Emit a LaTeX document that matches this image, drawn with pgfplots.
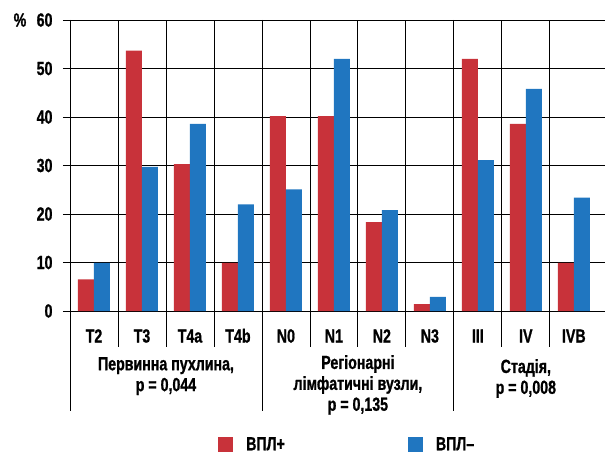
\documentclass[border=0pt]{standalone}
\usepackage{fontspec}
\setmainfont{Liberation Sans Bold}[FakeStretch=0.75, FakeBold=1]
\usepackage{pgfplots}
\pgfplotsset{compat=1.18}
\definecolor{vplpos}{RGB}{200,50,58}
\definecolor{vplneg}{RGB}{32,118,192}

\begin{document}
\begin{tikzpicture}[font=\fontsize{19}{21}\selectfont]
  \useasboundingbox (-70bp,-144bp) rectangle (535bp,311bp);
  \begin{axis}[
      scale only axis,
      width=535bp, height=291bp,
      at={(0,0)}, anchor=south west,
      ybar=0pt, bar width=16bp,
      xmin=-0.5, xmax=10.65,
      ymin=0, ymax=60,
      ytick={0,10,...,60},
      xtick={0,...,10},
      xticklabels={T2,T3,T4a,T4b,N0,N1,N2,N3,III,IV,IVB},
      minor xtick={0.5,1.5,...,9.5},
      ymajorgrids, xminorgrids,
      grid style={black, line width=0.8bp},
      minor grid style={black, line width=0.8bp},
      axis line style={draw=none},
      tick align=outside,
      xtick style={draw=none},
      minor tick length=0pt,
      ytick style={black, line width=0.8bp},
      major tick length=7bp,
      /pgf/number format/assume math mode=true,
      xticklabel style={anchor=base, yshift=-24.5bp},
      yticklabel style={anchor=east, xshift=-7bp},
      clip=false,
      legend columns=2,
      legend style={draw=none, fill=none, inner sep=0pt,
        at={(148bp,-133.5bp)}, anchor=west,
        nodes={inner sep=0pt},
        /tikz/every odd column/.append style={column sep=13bp},
        /tikz/every even column/.append style={column sep=123bp}},
      legend image code/.code={\fill[#1] (0bp,-7.5bp) rectangle (15bp,7.5bp);},
    ]
    \addplot[fill=vplpos, draw=none] coordinates {
      (0,6.5) (1,53.7) (2,30.3) (3,9.9) (4,40.2) (5,40.2)
      (6,18.3) (7,1.4) (8,52.0) (9,38.6) (10,9.9)
    };
    \addplot[fill=vplneg, draw=none] coordinates {
      (0,9.9) (1,29.7) (2,38.6) (3,22.0) (4,25.1) (5,52.0)
      (6,20.8) (7,2.9) (8,31.1) (9,45.8) (10,23.4)
    };
    \legend{ВПЛ+, ВПЛ–}

    % separators below the axis
    \pgfplotsinvokeforeach{0.5,1.5,2.5,4.5,5.5,6.5,8.5,9.5}{
      \draw[black, line width=0.8bp] (axis cs:#1,0) -- ([yshift=-36bp]axis cs:#1,0);
    }
    \pgfplotsinvokeforeach{-0.5,3.5,7.5}{
      \draw[black, line width=0.8bp] (axis cs:#1,60) -- ([yshift=-100bp]axis cs:#1,0);
    }

    \node[anchor=north, inner sep=0pt, align=center] at ([yshift=-46bp]axis cs:1.5,0)
      {Первинна пухлина,\\p = 0,044};
    \node[anchor=north, inner sep=0pt, align=center] at ([yshift=-44bp]axis cs:5.5,0)
      {Регіонарні\\лімфатичні вузли,\\p = 0,135};
    \node[anchor=north, inner sep=0pt, align=center] at ([yshift=-48bp]axis cs:9,0)
      {Стадія,\\p = 0,008};
    \node[inner sep=0pt] at ([xshift=-50bp]axis cs:-0.5,60) {\%};
  \end{axis}
\end{tikzpicture}
\end{document}
